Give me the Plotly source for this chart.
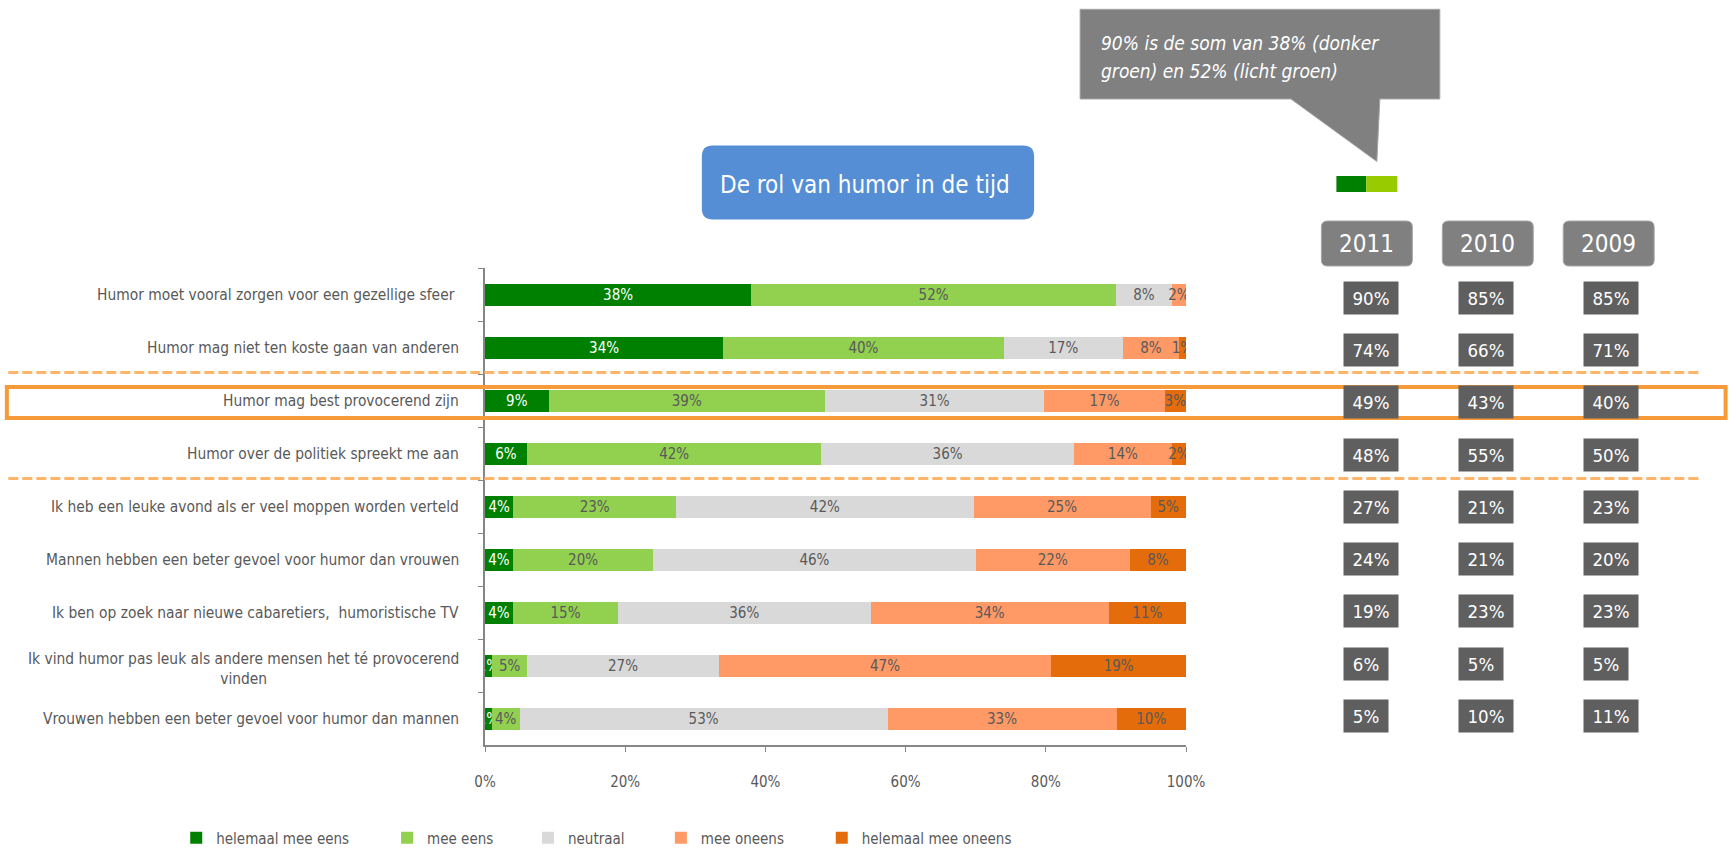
import plotly.graph_objects as go

# ---- data ----------------------------------------------------------
statements = [
    "Humor moet vooral zorgen voor een gezellige sfeer ",
    "Humor mag niet ten koste gaan van anderen",
    "Humor mag best provocerend zijn",
    "Humor over de politiek spreekt me aan",
    "Ik heb een leuke avond als er veel moppen worden verteld",
    "Mannen hebben een beter gevoel voor humor dan vrouwen",
    "Ik ben op zoek naar nieuwe cabaretiers,  humoristische TV",
    "Ik vind humor pas leuk als andere mensen het té provocerend<br>vinden",
    "Vrouwen hebben een beter gevoel voor humor dan mannen",
]
helemaal_mee_eens = [38, 34, 9, 6, 4, 4, 4, 1, 1]
mee_eens = [52, 40, 39, 42, 23, 20, 15, 5, 4]
neutraal = [8, 17, 31, 36, 42, 46, 36, 27, 53]
mee_oneens = [2, 8, 17, 14, 25, 22, 34, 47, 33]
helemaal_mee_oneens = [0, 1, 3, 2, 5, 8, 11, 19, 10]

years = ["2011", "2010", "2009"]
eens_2011 = [90, 74, 49, 48, 27, 24, 19, 6, 5]
eens_2010 = [85, 66, 43, 55, 21, 21, 23, 5, 10]
eens_2009 = [85, 71, 40, 50, 23, 20, 23, 5, 11]

x_ticks = [0, 20, 40, 60, 80, 100]
x_ticktext = ["0%", "20%", "40%", "60%", "80%", "100%"]

callout_lines = ["90% is de som van 38% (donker", "groen) en 52% (licht groen)"]
title_text = "De rol van humor in de tijd"

series = [
    ("helemaal mee eens", helemaal_mee_eens, "#008000", "white"),
    ("mee eens", mee_eens, "#92D050", "#595959"),
    ("neutraal", neutraal, "#D9D9D9", "#595959"),
    ("mee oneens", mee_oneens, "#FF9966", "#595959"),
    ("helemaal mee oneens", helemaal_mee_oneens, "#E46C0A", "#595959"),
]

FONT = "DejaVu Sans Condensed, Liberation Sans, sans-serif"
GREY_TXT = "#595959"

# ---- page geometry (pixels) ----------------------------------------
W, H = 1729, 851
L, T = 485, 268
R, B = W - 1186.5, H - 745
PW, PH = W - L - R, H - T - B


def px(x):
    return (x - L) / PW


def py(y):
    return (H - B - y) / PH


def rounded(x0, y0, x1, y1, r):
    pts = [
        ("M", x0 + r, y0), ("L", x1 - r, y0), ("Q", x1, y0, x1, y0 + r),
        ("L", x1, y1 - r), ("Q", x1, y1, x1 - r, y1), ("L", x0 + r, y1),
        ("Q", x0, y1, x0, y1 - r), ("L", x0, y0 + r), ("Q", x0, y0, x0 + r, y0),
    ]
    out = []
    for p in pts:
        cmd, coords = p[0], p[1:]
        xy = [f"{px(coords[i]):.5f},{py(coords[i + 1]):.5f}" for i in range(0, len(coords), 2)]
        out.append(cmd + " " + " ".join(xy))
    return " ".join(out) + " Z"


def poly(points):
    return "M " + " L ".join(f"{px(a):.5f},{py(b):.5f}" for a, b in points) + " Z"


# legend text starts (px) for each series, one legend per entry
legend_text_x = [217, 428, 569, 702, 863]

fig = go.Figure()
for i, (name, vals, color, tcolor) in enumerate(series):
    fig.add_trace(go.Bar(
        y=statements, x=vals, name=name, orientation="h",
        marker=dict(color=color, line=dict(width=0)),
        text=[f"{v}%" for v in vals], textposition="inside",
        insidetextanchor="middle", textangle=0,
        textfont=dict(color=tcolor, size=15, family=FONT),
        hoverinfo="skip",
        legend="legend" if i == 0 else f"legend{i + 1}",
    ))

shapes = []
# title box
shapes.append(dict(type="path", xref="paper", yref="paper", path=rounded(702, 145.5, 1034.5, 219.5, 11),
                   fillcolor="#558ED5", line=dict(width=0), layer="above"))
# callout
shapes.append(dict(type="path", xref="paper", yref="paper",
                   path=poly([(1080.5, 9.3), (1440.5, 9.3), (1440.5, 99), (1380.5, 99),
                              (1377.5, 161.5), (1291.5, 99), (1080.5, 99)]),
                   fillcolor="#808080", line=dict(color="#A6A6A6", width=1), layer="above"))
# green swatch
shapes.append(dict(type="rect", xref="paper", yref="paper", x0=px(1337), x1=px(1367), y0=py(176), y1=py(192),
                   fillcolor="#008000", line=dict(width=0)))
shapes.append(dict(type="rect", xref="paper", yref="paper", x0=px(1367), x1=px(1398), y0=py(176), y1=py(192),
                   fillcolor="#99CC00", line=dict(width=0)))
# year header boxes
year_cx = [1367.5, 1488.5, 1609.5]
for cx in year_cx:
    shapes.append(dict(type="path", xref="paper", yref="paper", path=rounded(cx - 45.5, 221, cx + 45.5, 266, 6),
                       fillcolor="#808080", line=dict(color="#A6A6A6", width=1), layer="above"))
# dashed separators
for yy in (372.5, 478.5):
    shapes.append(dict(type="line", xref="paper", yref="paper", x0=px(8), x1=px(1701), y0=py(yy), y1=py(yy),
                       line=dict(color="#FDB46B", width=3, dash="10px,4px"), layer="above"))
# highlight rectangle
shapes.append(dict(type="rect", xref="paper", yref="paper", x0=px(6.5), x1=px(1726.5), y0=py(387), y1=py(418),
                   line=dict(color="#F79A3A", width=4), fillcolor="rgba(0,0,0,0)", layer="above"))

annotations = []
annotations.append(dict(xref="paper", yref="paper", x=px(718), y=py(185), xanchor="left", yanchor="middle",
                        text=title_text, showarrow=False,
                        font=dict(family=FONT, size=24, color="white")))
for yy, line in zip((43, 71), callout_lines):
    annotations.append(dict(xref="paper", yref="paper", x=px(1099), y=py(yy), xanchor="left", yanchor="middle",
                            align="left", showarrow=False, text=f"<i>{line}</i>",
                            font=dict(family=FONT, size=19, color="white")))
for cx, yr in zip(year_cx, years):
    annotations.append(dict(xref="paper", yref="paper", x=px(cx), y=py(244), xanchor="center", yanchor="middle",
                            text=yr, showarrow=False, font=dict(family=FONT, size=24, color="white")))

# category labels (centred multi-line like the original)
for s in statements:
    annotations.append(dict(xref="paper", yref="y", x=px(461), y=s, xanchor="right", yanchor="middle",
                            align="center", text=s, showarrow=False,
                            yshift=-3 if "<br>" in s else 0,
                            font=dict(family=FONT, size=15.4, color=GREY_TXT)))

# value boxes per year
col_left = [1344, 1459, 1584]
for left, vals in zip(col_left, [eens_2011, eens_2010, eens_2009]):
    for i, (s, v) in enumerate(zip(statements, vals)):
        annotations.append(dict(xref="paper", yref="y", x=px(left), y=s, xanchor="left", yanchor="middle",
                                text=f"{v}%", showarrow=False, bgcolor="#5F5F5F", borderpad=4,
                                width=46 if v >= 10 else 36, height=24, align="center",
                                yshift=-3.3 + 0.75 * i,
                                font=dict(family=FONT, size=18.5, color="white")))

legend_base = dict(orientation="h", xanchor="left", y=py(838), yanchor="middle",
                   font=dict(family=FONT, size=15, color=GREY_TXT),
                   itemwidth=30, bgcolor="rgba(0,0,0,0)")
legends = {}
for i, tx in enumerate(legend_text_x):
    key = "legend" if i == 0 else f"legend{i + 1}"
    legends[key] = dict(legend_base, x=px(tx - 41))

fig.update_layout(
    width=W, height=H,
    margin=dict(l=L, r=R, t=T, b=B, pad=0, autoexpand=False),
    barmode="stack", barnorm="percent", bargap=0.585,
    plot_bgcolor="white", paper_bgcolor="white",
    font=dict(family=FONT, color=GREY_TXT),
    uniformtext=dict(minsize=15, mode="show"),
    shapes=shapes, annotations=annotations,
    showlegend=True,
    xaxis=dict(range=[0, 100], tickvals=x_ticks, ticktext=x_ticktext, ticks="outside", ticklen=5,
               tickcolor="#868686", showline=True, linecolor="#868686", linewidth=1.5,
               showgrid=False, zeroline=False, tickfont=dict(family=FONT, size=15, color=GREY_TXT),
               ticklabelstandoff=17, fixedrange=True),
    yaxis=dict(autorange="reversed", showticklabels=False, ticks="outside", ticklen=5,
               tickson="boundaries", tickcolor="#868686", showline=True, linecolor="#868686",
               linewidth=1.5, showgrid=False, fixedrange=True),
    **legends,
)

fig.write_html("out.html", config={"displayModeBar": False},
               post_script="document.body.style.margin='0';document.body.style.overflow='hidden';")
